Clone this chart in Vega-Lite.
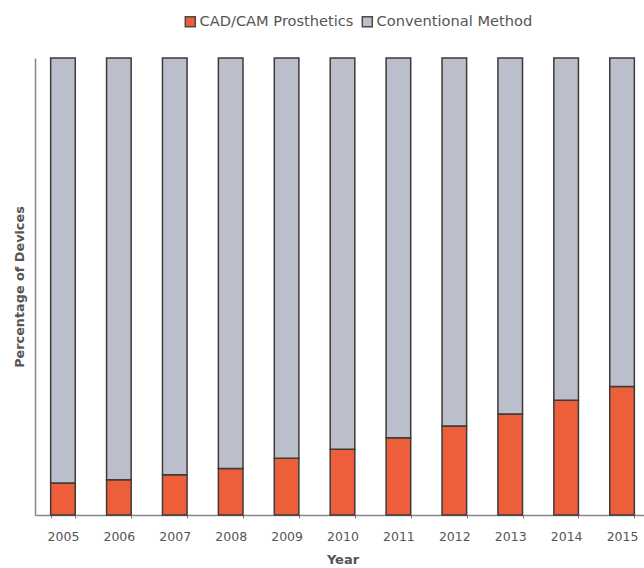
{
  "$schema": "https://vega.github.io/schema/vega-lite/v6.json",
  "autosize": "none",
  "padding": {"left": 35, "top": 58, "right": 0, "bottom": 53},
  "width": 615,
  "height": 457,
  "background": "#ffffff",
  "config": {
    "font": "DejaVu Sans",
    "view": {"stroke": null}
  },
  "data": {
    "values": [
      {"year": "2005", "method": "CAD/CAM Prosthetics", "share": 7.0},
      {"year": "2005", "method": "Conventional Method", "share": 93.0},
      {"year": "2006", "method": "CAD/CAM Prosthetics", "share": 7.7},
      {"year": "2006", "method": "Conventional Method", "share": 92.3},
      {"year": "2007", "method": "CAD/CAM Prosthetics", "share": 8.8},
      {"year": "2007", "method": "Conventional Method", "share": 91.2},
      {"year": "2008", "method": "CAD/CAM Prosthetics", "share": 10.2},
      {"year": "2008", "method": "Conventional Method", "share": 89.8},
      {"year": "2009", "method": "CAD/CAM Prosthetics", "share": 12.4},
      {"year": "2009", "method": "Conventional Method", "share": 87.6},
      {"year": "2010", "method": "CAD/CAM Prosthetics", "share": 14.4},
      {"year": "2010", "method": "Conventional Method", "share": 85.6},
      {"year": "2011", "method": "CAD/CAM Prosthetics", "share": 16.9},
      {"year": "2011", "method": "Conventional Method", "share": 83.1},
      {"year": "2012", "method": "CAD/CAM Prosthetics", "share": 19.5},
      {"year": "2012", "method": "Conventional Method", "share": 80.5},
      {"year": "2013", "method": "CAD/CAM Prosthetics", "share": 22.1},
      {"year": "2013", "method": "Conventional Method", "share": 77.9},
      {"year": "2014", "method": "CAD/CAM Prosthetics", "share": 25.1},
      {"year": "2014", "method": "Conventional Method", "share": 74.9},
      {"year": "2015", "method": "CAD/CAM Prosthetics", "share": 28.1},
      {"year": "2015", "method": "Conventional Method", "share": 71.9}
    ]
  },
  "mark": {"type": "bar", "stroke": "#3d3a38", "strokeWidth": 1.5},
  "encoding": {
    "x": {
      "field": "year",
      "type": "ordinal",
      "scale": {"paddingInner": 0.56, "paddingOuter": 0.28},
      "axis": {
        "title": "Year",
        "titleFontSize": 13,
        "titleFontWeight": "bold",
        "titleColor": "#555555",
        "titlePadding": 11,
        "labelAngle": 0,
        "labelFontSize": 12.5,
        "labelColor": "#555555",
        "labelPadding": 12,
        "domainColor": "#888888",
        "domainWidth": 1.5,
        "tickColor": "#777777",
        "tickSize": 3,
        "tickBand": "extent"
      }
    },
    "y": {
      "field": "share",
      "type": "quantitative",
      "stack": "zero",
      "scale": {"domain": [0, 100], "nice": false},
      "axis": {
        "title": "Percentage of Devices",
        "titleFontSize": 12.8,
        "titleFontWeight": "bold",
        "titleColor": "#555555",
        "titlePadding": 9,
        "labels": false,
        "ticks": false,
        "grid": false,
        "domainColor": "#888888",
        "domainWidth": 1.5
      }
    },
    "color": {
      "field": "method",
      "type": "nominal",
      "sort": ["CAD/CAM Prosthetics", "Conventional Method"],
      "scale": {
        "domain": ["CAD/CAM Prosthetics", "Conventional Method"],
        "range": ["#ec5f3a", "#bbbfcc"]
      },
      "legend": {
        "title": null,
        "orient": "none",
        "direction": "horizontal",
        "legendX": 148,
        "legendY": -44,
        "symbolType": "square",
        "symbolSize": 100,
        "symbolStrokeColor": "#4a4a4a",
        "symbolStrokeWidth": 1.5,
        "labelFontSize": 14.6,
        "labelColor": "#555555",
        "labelOffset": 2,
        "columnPadding": 5
      }
    },
    "order": {"field": "method", "sort": "ascending"}
  }
}
